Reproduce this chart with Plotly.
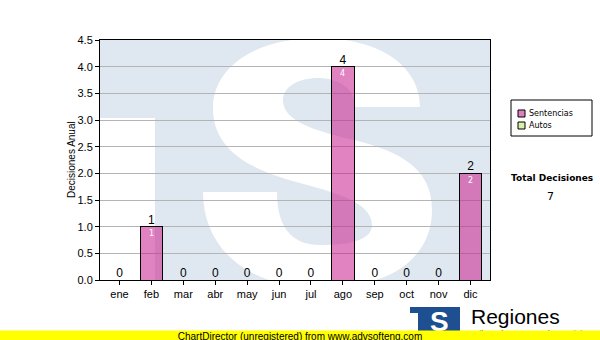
import plotly.graph_objects as go

# ---------------- data ----------------
months = ["ene", "feb", "mar", "abr", "may", "jun", "jul", "ago", "sep", "oct", "nov", "dic"]
sentencias = [0, 1, 0, 0, 0, 0, 0, 4, 0, 0, 0, 2]
autos = [0, 0, 0, 0, 0, 0, 0, 0, 0, 0, 0, 0]
series_names = ["Sentencias", "Autos"]
y_ticks = [0.0, 0.5, 1.0, 1.5, 2.0, 2.5, 3.0, 3.5, 4.0, 4.5]

totals = [s + a for s, a in zip(sentencias, autos)]
total_all = sum(totals)

# ---------------- styles ----------------
W, H = 600, 340
L, R, T, B = 100, 110, 40, 60
PW, PH = W - L - R, H - T - B

PINK = "rgba(200,30,140,0.55)"
GREEN = "#d8f0a8"
LIGHTBLUE = "#dfe8f1"
AX_FONT = "Liberation Sans, Arial, sans-serif"
LEG_FONT = "DejaVu Sans, Tahoma, sans-serif"


def px(x):
    return (x - L) / PW


def py(y):
    return (T + PH - y) / PH


fig = go.Figure()
fig.add_trace(go.Bar(x=months, y=sentencias, name=series_names[0],
                     marker=dict(color=PINK, line=dict(color="black", width=1)),
                     showlegend=False, hoverinfo="skip"))
fig.add_trace(go.Bar(x=months, y=autos, name=series_names[1],
                     marker=dict(color=GREEN, line=dict(color="black", width=0)),
                     showlegend=False, hoverinfo="skip"))

# totals above bars
fig.add_trace(go.Scatter(x=months, y=totals, text=[str(v) for v in totals],
                         mode="text", textposition="top center",
                         textfont=dict(family=AX_FONT, size=12, color="black"),
                         cliponaxis=False, showlegend=False, hoverinfo="skip"))

# ---------------- watermark (TS logo) ----------------
s_path_px = [
    ("M", [(420, 107)]),
    ("C", [(420, 65), (378, 38), (318, 38)]),
    ("C", [(255, 38), (213, 68), (213, 108)]),
    ("C", [(213, 150), (250, 170), (300, 183)]),
    ("C", [(345, 195), (372, 205), (372, 225)]),
    ("C", [(372, 240), (350, 245), (320, 245)]),
    ("C", [(290, 245), (277, 225), (277, 192)]),
    ("L", [(203, 192)]),
    ("C", [(203, 250), (250, 288), (320, 288)]),
    ("C", [(395, 288), (432, 255), (432, 210)]),
    ("C", [(432, 168), (400, 150), (345, 138)]),
    ("C", [(305, 128), (283, 118), (283, 100)]),
    ("C", [(283, 87), (298, 78), (318, 78)]),
    ("C", [(338, 78), (355, 88), (355, 107)]),
]
path = ""
for cmd, pts in s_path_px:
    path += cmd + " " + " ".join(f"{px(x):.4f},{py(y):.4f}" for x, y in pts) + " "
path += "Z"

shapes = [
    dict(type="rect", xref="paper", yref="paper", x0=0, x1=px(155), y0=0, y1=py(118),
         fillcolor="white", line=dict(width=0), layer="below"),
    dict(type="path", xref="paper", yref="paper", path=path,
         fillcolor="white", line=dict(width=0), layer="below"),
    # legend box + swatches
    dict(type="rect", xref="paper", yref="paper", x0=px(511), x1=px(592), y0=py(136), y1=py(100),
         fillcolor="white", line=dict(color="black", width=1)),
    dict(type="rect", xref="paper", yref="paper", x0=px(518), x1=px(525), y0=py(117), y1=py(110),
         fillcolor="#e07fc0", line=dict(color="black", width=1)),
    dict(type="rect", xref="paper", yref="paper", x0=px(518), x1=px(525), y0=py(129), y1=py(122),
         fillcolor=GREEN, line=dict(color="black", width=1)),
    # bottom logo
    dict(type="rect", xref="paper", yref="paper", x0=px(410), x1=px(460), y0=py(331), y1=py(307),
         fillcolor="#1d4f91", line=dict(width=0)),
    dict(type="rect", xref="paper", yref="paper", x0=px(410), x1=px(418), y0=py(331), y1=py(313),
         fillcolor="white", line=dict(width=0)),
]


def ann(x, y, text, font, xanchor="center", yanchor="middle", **kw):
    return dict(xref="paper", yref="paper", x=px(x), y=py(y), text=text, showarrow=False,
                xanchor=xanchor, yanchor=yanchor, font=font, **kw)


annotations = []
# inner white value labels (positioned via data axes)
for m, v in zip(months, sentencias):
    if v > 0:
        annotations.append(dict(xref="x", yref="y", x=m, y=v, text=str(v), showarrow=False,
                                xanchor="center", yanchor="middle", yshift=-7,
                                font=dict(family=LEG_FONT, size=8, color="white")))

annotations += [
    ann(71, 160, "Decisiones Anual", dict(family=AX_FONT, size=10, color="black"), textangle=-90),
    ann(527, 113.5, series_names[0], dict(family=LEG_FONT, size=8, color="black"), xanchor="left"),
    ann(527, 125.5, series_names[1], dict(family=LEG_FONT, size=8, color="black"), xanchor="left"),
    ann(552, 178, "<b>Total Decisiones</b>", dict(family=LEG_FONT, size=9, color="black")),
    ann(550, 196, str(total_all), dict(family=LEG_FONT, size=11, color="black")),
    ann(439, 321, "<b>S</b>", dict(family=AX_FONT, size=28, color="white")),
    ann(469, 316, "Regiones", dict(family=AX_FONT, size=21, color="black"), xanchor="left"),
    ann(469, 334, "Tribunal Supremo de Justicia", dict(family=AX_FONT, size=9, color="black"),
        xanchor="left"),
    ann(300, 335.5, "ChartDirector (unregistered) from www.advsofteng.com",
        dict(family=AX_FONT, size=10, color="black"), width=600, height=10,
        bgcolor="#ffff00", borderpad=0),
]

fig.update_layout(
    width=W, height=H,
    margin=dict(l=L, r=R, t=T, b=B, pad=0),
    paper_bgcolor="white",
    plot_bgcolor=LIGHTBLUE,
    barmode="stack",
    bargap=0.3,
    showlegend=False,
    shapes=shapes,
    annotations=annotations,
    xaxis=dict(type="category", showline=True, linecolor="black", linewidth=1, mirror=True,
               ticks="outside", ticklen=4, tickcolor="black", showgrid=False,
               tickfont=dict(family=AX_FONT, size=11, color="black")),
    yaxis=dict(range=[0, 4.5], tickvals=y_ticks, ticktext=[f"{v:.1f}" for v in y_ticks],
               showline=True, linecolor="black", linewidth=1, mirror=True,
               ticks="outside", ticklen=4, tickcolor="black",
               showgrid=True, gridcolor="#b4b4b4", gridwidth=1, zeroline=False,
               tickfont=dict(family=AX_FONT, size=11, color="black")),
)

fig.write_html("out.html")
